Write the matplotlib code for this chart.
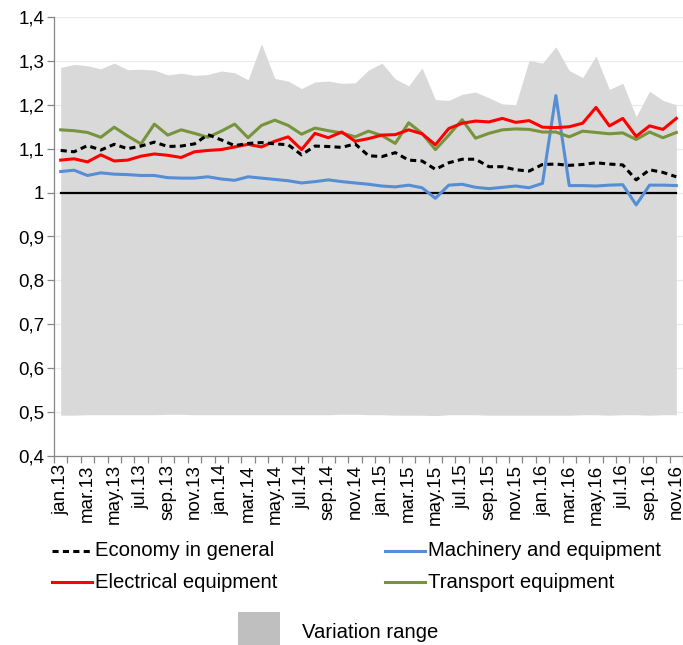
import numpy as np
import matplotlib
matplotlib.use('Agg')
import matplotlib.pyplot as plt
from matplotlib.lines import Line2D
from matplotlib.patches import Rectangle
from matplotlib.ticker import FixedLocator, FuncFormatter

plt.rcParams['font.family'] = ['Liberation Sans', 'DejaVu Sans']

# Months jan.13 .. nov.16
MONTHS = ['jan', 'feb', 'mar', 'apr', 'may', 'jun',
          'jul', 'aug', 'sep', 'oct', 'nov', 'dec']
YEARS = ['13', '14', '15', '16']
periods = [f'{m}.{y}' for y in YEARS for m in MONTHS][:47]

economy = [1.096, 1.093, 1.107, 1.097, 1.110, 1.100, 1.106, 1.115, 1.105, 1.106,
           1.111, 1.132, 1.120, 1.107, 1.112, 1.114, 1.111, 1.109, 1.086, 1.106,
           1.105, 1.103, 1.111, 1.084, 1.082, 1.091, 1.074, 1.072, 1.053, 1.068,
           1.076, 1.076, 1.059, 1.059, 1.052, 1.049, 1.064, 1.065, 1.062, 1.064,
           1.068, 1.065, 1.063, 1.029, 1.052, 1.046, 1.036]
machinery = [1.048, 1.051, 1.039, 1.045, 1.042, 1.041, 1.039, 1.039, 1.034, 1.033,
             1.033, 1.036, 1.031, 1.028, 1.036, 1.033, 1.030, 1.027, 1.022, 1.025,
             1.029, 1.025, 1.022, 1.019, 1.015, 1.013, 1.017, 1.011, 0.987, 1.017,
             1.019, 1.012, 1.009, 1.012, 1.015, 1.011, 1.021, 1.221, 1.016, 1.016,
             1.015, 1.017, 1.018, 0.972, 1.017, 1.017, 1.016]
electrical = [1.074, 1.077, 1.070, 1.086, 1.072, 1.074, 1.083, 1.088, 1.085, 1.080,
              1.093, 1.096, 1.098, 1.104, 1.110, 1.104, 1.117, 1.127, 1.098, 1.135,
              1.125, 1.138, 1.117, 1.123, 1.131, 1.132, 1.143, 1.134, 1.109, 1.146,
              1.158, 1.163, 1.161, 1.169, 1.160, 1.164, 1.149, 1.148, 1.150, 1.158,
              1.194, 1.152, 1.169, 1.128, 1.152, 1.144, 1.169]
transport = [1.143, 1.141, 1.137, 1.126, 1.149, 1.129, 1.111, 1.156, 1.131, 1.143,
             1.135, 1.126, 1.140, 1.156, 1.125, 1.153, 1.165, 1.153, 1.133, 1.147,
             1.141, 1.136, 1.127, 1.140, 1.130, 1.112, 1.159, 1.135, 1.098, 1.131,
             1.166, 1.124, 1.135, 1.143, 1.145, 1.144, 1.138, 1.138, 1.127, 1.140,
             1.137, 1.134, 1.136, 1.121, 1.138, 1.125, 1.137]
range_high = [1.285, 1.292, 1.289, 1.282, 1.295, 1.280, 1.281, 1.279, 1.268, 1.272,
              1.267, 1.269, 1.277, 1.273, 1.257, 1.339, 1.260, 1.254, 1.237, 1.252,
              1.254, 1.249, 1.250, 1.279, 1.295, 1.259, 1.243, 1.284, 1.212, 1.210,
              1.224, 1.229, 1.216, 1.202, 1.200, 1.301, 1.295, 1.332, 1.278, 1.262,
              1.311, 1.235, 1.249, 1.173, 1.231, 1.210, 1.200]
range_low = [0.493, 0.493, 0.494, 0.494, 0.494, 0.494, 0.494, 0.494, 0.495, 0.495,
             0.494, 0.494, 0.494, 0.494, 0.494, 0.494, 0.494, 0.494, 0.494, 0.494,
             0.494, 0.495, 0.495, 0.494, 0.494, 0.493, 0.493, 0.493, 0.492, 0.494,
             0.494, 0.494, 0.493, 0.493, 0.493, 0.493, 0.493, 0.493, 0.493, 0.494,
             0.494, 0.493, 0.494, 0.494, 0.493, 0.494, 0.494]
reference = [1.0] * 47

C_BLUE = '#558ED5'
C_RED = '#FF0000'
C_GREEN = '#77933C'
C_FILL = '#D9D9D9'
C_AXIS = '#868686'

fig = plt.figure(figsize=(6.83, 6.45), dpi=100)
ax = fig.add_axes([54 / 683, 1 - 456 / 645, 629 / 683, 439 / 645])

x = np.arange(len(periods))
ax.fill_between(x, range_low, range_high, color=C_FILL, linewidth=0, zorder=1)
ax.plot(x, reference, color='black', linewidth=1.6, zorder=2)
ax.plot(x, machinery, color=C_BLUE, linewidth=2.2, zorder=3)
ax.plot(x, transport, color=C_GREEN, linewidth=2.2, zorder=3)
ax.plot(x, electrical, color=C_RED, linewidth=2.2, zorder=4)
ax.plot(x, economy, color='black', linewidth=2.2, linestyle=(0, (2.0, 1.4)), zorder=5)

ax.set_xlim(-0.5, len(periods) - 0.5)
ax.set_ylim(0.4, 1.4)

ax.set_yticks(np.arange(0.4, 1.41, 0.1))
ax.yaxis.set_major_formatter(FuncFormatter(
    lambda v, _: '1' if abs(v - 1) < 1e-9 else f'{v:.1f}'.replace('.', ',')))
ax.grid(axis='y', color='#EBEBEB', linewidth=0.9, zorder=0)
ax.set_axisbelow(True)

# tick marks between categories, labels every other month
ax.xaxis.set_major_locator(FixedLocator(np.arange(-0.5, len(periods), 1.0)))
ax.xaxis.set_major_formatter(FuncFormatter(lambda v, _: ''))
ax.xaxis.set_minor_locator(FixedLocator(x[::2]))
ax.set_xticklabels(periods[::2], minor=True, rotation=90)
ax.tick_params(axis='x', which='major', length=5, color=C_AXIS, width=0.9)
ax.tick_params(axis='x', which='minor', length=0, labelsize=13.5, pad=6)
ax.tick_params(axis='y', length=5, color=C_AXIS, width=0.9, labelsize=13.5, pad=2)

for side in ('top', 'right'):
    ax.spines[side].set_visible(False)
for side in ('left', 'bottom'):
    ax.spines[side].set_color(C_AXIS)
    ax.spines[side].set_linewidth(0.9)

# legend, laid out like the original
def px(xp, yp):
    return xp / 683, 1 - yp / 645

legend_items = [
    ('Economy in general', dict(color='black', linestyle=(0, (2.0, 1.4))), 52, 551),
    ('Machinery and equipment', dict(color=C_BLUE), 385, 551),
    ('Electrical equipment', dict(color=C_RED), 52, 582),
    ('Transport equipment', dict(color=C_GREEN), 385, 582),
]
for label, style, lx, ly in legend_items:
    x0, y0 = px(lx, ly)
    x1, _ = px(lx + 40, ly)
    fig.add_artist(Line2D([x0, x1], [y0, y0], linewidth=2.2, transform=fig.transFigure, **style))
    fig.text(px(lx + 43, ly)[0], y0, label, fontsize=14.6, va='center', ha='left')

sx, sy = px(238, 648)
fig.add_artist(Rectangle((sx, sy), 42 / 683, 36 / 645, color='#BFBFBF',
                         transform=fig.transFigure, linewidth=0))
fig.text(px(302, 632)[0], px(302, 632)[1], 'Variation range', fontsize=14.6,
         va='center', ha='left')

fig.savefig('out.png', dpi=100)
